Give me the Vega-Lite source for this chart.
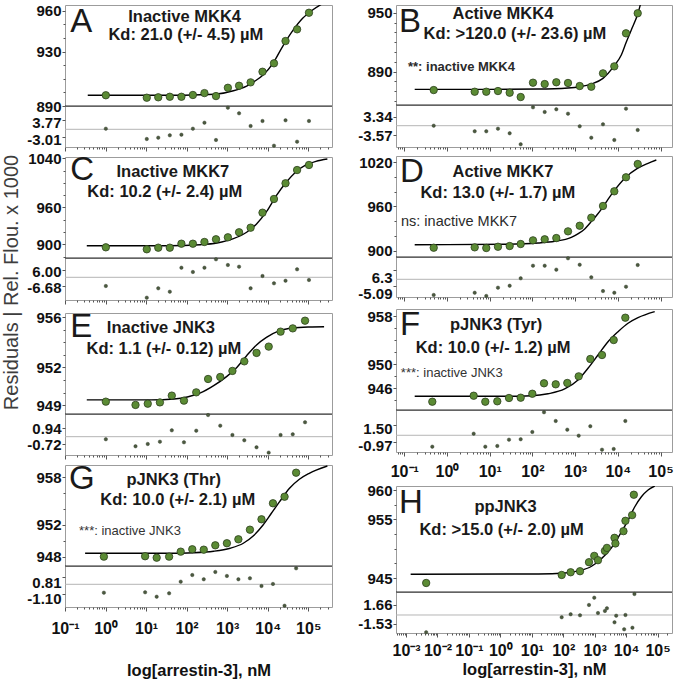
{
"$schema": "https://vega.github.io/schema/vega-lite/v6.json",
"padding": {"left": 2, "top": 0, "right": 0, "bottom": 0},
"background": "white",
"title": {"text": "Residuals | Rel. Flou. x 1000", "orient": "left", "anchor": "middle", "offset": 4, "dx": 57, "fontSize": 20, "fontWeight": "normal", "font": "Liberation Sans", "color": "#3d3d3d"},
"datasets": {
"pts": [
{"p":"A","logc":0.007,"y":897.9},{"p":"A","logc":1.017,"y":896.1},{"p":"A","logc":1.3,"y":896.4},{"p":"A","logc":1.585,"y":896.8},{"p":"A","logc":1.871,"y":896.8},{"p":"A","logc":2.154,"y":898.1},{"p":"A","logc":2.439,"y":899.5},{"p":"A","logc":2.724,"y":897.3},{"p":"A","logc":3.017,"y":903.4},{"p":"A","logc":3.293,"y":904.9},{"p":"A","logc":3.578,"y":907.4},{"p":"A","logc":3.871,"y":915.2},{"p":"A","logc":4.154,"y":921.4},{"p":"A","logc":4.439,"y":937.8},{"p":"A","logc":4.724,"y":946.4},{"p":"A","logc":5.017,"y":958.6},
{"p":"B","logc":-0.311,"y":871.3},{"p":"B","logc":0.649,"y":869.6},{"p":"B","logc":0.92,"y":869.6},{"p":"B","logc":1.194,"y":870.3},{"p":"B","logc":1.468,"y":868.6},{"p":"B","logc":1.726,"y":864.2},{"p":"B","logc":2.014,"y":878.8},{"p":"B","logc":2.288,"y":877.4},{"p":"B","logc":2.56,"y":879.2},{"p":"B","logc":2.834,"y":878.5},{"p":"B","logc":3.108,"y":875.4},{"p":"B","logc":3.379,"y":874.7},{"p":"B","logc":3.653,"y":888.3},{"p":"B","logc":3.918,"y":895.4},{"p":"B","logc":4.192,"y":929.0},{"p":"B","logc":4.466,"y":949.4},
{"p":"C","logc":0.007,"y":895.0},{"p":"C","logc":1.017,"y":891.8},{"p":"C","logc":1.3,"y":894.4},{"p":"C","logc":1.585,"y":894.4},{"p":"C","logc":1.871,"y":900.9},{"p":"C","logc":2.154,"y":900.9},{"p":"C","logc":2.439,"y":903.7},{"p":"C","logc":2.724,"y":908.1},{"p":"C","logc":3.017,"y":911.3},{"p":"C","logc":3.293,"y":919.5},{"p":"C","logc":3.578,"y":927.0},{"p":"C","logc":3.871,"y":951.4},{"p":"C","logc":4.154,"y":973.7},{"p":"C","logc":4.439,"y":999.3},{"p":"C","logc":4.724,"y":1020.9},{"p":"C","logc":5.017,"y":1029.1},
{"p":"D","logc":-0.311,"y":904.0},{"p":"D","logc":0.649,"y":904.5},{"p":"D","logc":0.92,"y":903.6},{"p":"D","logc":1.194,"y":905.3},{"p":"D","logc":1.468,"y":906.3},{"p":"D","logc":1.726,"y":909.0},{"p":"D","logc":2.014,"y":914.0},{"p":"D","logc":2.288,"y":915.4},{"p":"D","logc":2.56,"y":917.1},{"p":"D","logc":2.834,"y":926.2},{"p":"D","logc":3.108,"y":933.8},{"p":"D","logc":3.379,"y":944.7},{"p":"D","logc":3.653,"y":960.6},{"p":"D","logc":3.918,"y":980.5},{"p":"D","logc":4.192,"y":999.5},{"p":"D","logc":4.466,"y":1017.5},
{"p":"E","logc":0.007,"y":949.28},{"p":"E","logc":0.739,"y":949.02},{"p":"E","logc":1.041,"y":949.12},{"p":"E","logc":1.341,"y":949.22},{"p":"E","logc":1.634,"y":949.76},{"p":"E","logc":1.934,"y":949.36},{"p":"E","logc":2.237,"y":950.02},{"p":"E","logc":2.529,"y":951.08},{"p":"E","logc":2.829,"y":951.24},{"p":"E","logc":3.129,"y":951.72},{"p":"E","logc":3.422,"y":952.48},{"p":"E","logc":3.724,"y":953.15},{"p":"E","logc":4.024,"y":953.65},{"p":"E","logc":4.317,"y":954.84},{"p":"E","logc":4.617,"y":955.10},{"p":"E","logc":4.92,"y":955.71},
{"p":"F","logc":-0.344,"y":943.78},{"p":"F","logc":0.625,"y":944.78},{"p":"F","logc":0.897,"y":943.78},{"p":"F","logc":1.178,"y":943.85},{"p":"F","logc":1.452,"y":944.40},{"p":"F","logc":1.726,"y":944.45},{"p":"F","logc":1.998,"y":945.11},{"p":"F","logc":2.272,"y":946.85},{"p":"F","logc":2.546,"y":946.68},{"p":"F","logc":2.817,"y":946.90},{"p":"F","logc":3.084,"y":948.01},{"p":"F","logc":3.356,"y":950.90},{"p":"F","logc":3.63,"y":951.56},{"p":"F","logc":3.904,"y":954.06},{"p":"F","logc":4.176,"y":957.78},
{"p":"G","logc":-0.041,"y":947.99},{"p":"G","logc":0.976,"y":948.04},{"p":"G","logc":1.261,"y":947.86},{"p":"G","logc":1.568,"y":947.99},{"p":"G","logc":1.854,"y":948.62},{"p":"G","logc":2.139,"y":948.92},{"p":"G","logc":2.422,"y":948.87},{"p":"G","logc":2.707,"y":949.42},{"p":"G","logc":2.993,"y":949.68},{"p":"G","logc":3.276,"y":950.18},{"p":"G","logc":3.561,"y":951.39},{"p":"G","logc":3.846,"y":952.70},{"p":"G","logc":4.129,"y":954.72},{"p":"G","logc":4.415,"y":955.55},{"p":"G","logc":4.7,"y":958.58},
{"p":"H","logc":-2.36,"y":944.16},{"p":"H","logc":1.951,"y":945.53},{"p":"H","logc":2.236,"y":945.99},{"p":"H","logc":2.534,"y":946.17},{"p":"H","logc":2.819,"y":947.71},{"p":"H","logc":2.987,"y":948.79},{"p":"H","logc":3.105,"y":948.05},{"p":"H","logc":3.326,"y":949.64},{"p":"H","logc":3.39,"y":950.15},{"p":"H","logc":3.631,"y":951.87},{"p":"H","logc":3.66,"y":950.91},{"p":"H","logc":3.916,"y":953.01},{"p":"H","logc":3.979,"y":954.78},{"p":"H","logc":4.192,"y":955.75},{"p":"H","logc":4.246,"y":959.23}
],
"fit": [
{"p":"A","logc":-0.439,"y":897.9},{"p":"A","logc":1.529,"y":897.9},{"p":"A","logc":2.341,"y":898.3},{"p":"A","logc":2.749,"y":898.8},{"p":"A","logc":3.154,"y":901.2},{"p":"A","logc":3.48,"y":904.7},{"p":"A","logc":3.724,"y":909.1},{"p":"A","logc":3.885,"y":912.8},{"p":"A","logc":4.129,"y":921.4},{"p":"A","logc":4.373,"y":934.1},{"p":"A","logc":4.617,"y":945.4},{"p":"A","logc":4.861,"y":954.5},{"p":"A","logc":5.105,"y":960.6},{"p":"A","logc":5.39,"y":966.0},
{"p":"B","logc":-0.756,"y":872.0},{"p":"B","logc":0.96,"y":872.0},{"p":"B","logc":2.131,"y":872.3},{"p":"B","logc":2.834,"y":873.4},{"p":"B","logc":3.108,"y":874.7},{"p":"B","logc":3.379,"y":877.4},{"p":"B","logc":3.653,"y":883.2},{"p":"B","logc":3.918,"y":896.1},{"p":"B","logc":4.082,"y":906.9},{"p":"B","logc":4.192,"y":919.4},{"p":"B","logc":4.316,"y":932.4},{"p":"B","logc":4.466,"y":948.6},{"p":"B","logc":4.536,"y":959.5},{"p":"B","logc":4.6,"y":970.0},
{"p":"C","logc":-0.463,"y":897.6},{"p":"C","logc":1.529,"y":897.6},{"p":"C","logc":2.341,"y":899.3},{"p":"C","logc":2.749,"y":902.0},{"p":"C","logc":3.154,"y":909.0},{"p":"C","logc":3.48,"y":919.5},{"p":"C","logc":3.724,"y":933.0},{"p":"C","logc":3.968,"y":953.0},{"p":"C","logc":4.212,"y":979.1},{"p":"C","logc":4.456,"y":1000.9},{"p":"C","logc":4.7,"y":1018.2},{"p":"C","logc":4.944,"y":1029.1},{"p":"C","logc":5.188,"y":1035.1},{"p":"C","logc":5.471,"y":1038.8},
{"p":"D","logc":-0.756,"y":908.0},{"p":"D","logc":1.351,"y":908.6},{"p":"D","logc":2.131,"y":910.4},{"p":"D","logc":2.522,"y":912.7},{"p":"D","logc":2.911,"y":918.1},{"p":"D","logc":3.084,"y":923.5},{"p":"D","logc":3.225,"y":929.5},{"p":"D","logc":3.356,"y":937.9},{"p":"D","logc":3.497,"y":947.4},{"p":"D","logc":3.63,"y":957.4},{"p":"D","logc":3.77,"y":969.6},{"p":"D","logc":3.904,"y":980.5},{"p":"D","logc":4.176,"y":999.0},{"p":"D","logc":4.45,"y":1011.2},{"p":"D","logc":4.707,"y":1018.5},{"p":"D","logc":4.902,"y":1023.0},
{"p":"E","logc":-0.463,"y":949.42},{"p":"E","logc":1.122,"y":949.42},{"p":"E","logc":1.691,"y":949.49},{"p":"E","logc":2.016,"y":949.65},{"p":"E","logc":2.341,"y":949.97},{"p":"E","logc":2.667,"y":950.55},{"p":"E","logc":2.992,"y":951.29},{"p":"E","logc":3.237,"y":952.0},{"p":"E","logc":3.48,"y":952.93},{"p":"E","logc":3.724,"y":953.78},{"p":"E","logc":3.968,"y":954.38},{"p":"E","logc":4.293,"y":954.92},{"p":"E","logc":4.617,"y":955.13},{"p":"E","logc":5.024,"y":955.21},{"p":"E","logc":5.39,"y":955.23},
{"p":"F","logc":-0.756,"y":944.68},{"p":"F","logc":1.351,"y":944.68},{"p":"F","logc":1.974,"y":944.78},{"p":"F","logc":2.365,"y":945.11},{"p":"F","logc":2.756,"y":945.9},{"p":"F","logc":3.068,"y":947.4},{"p":"F","logc":3.302,"y":949.35},{"p":"F","logc":3.536,"y":951.56},{"p":"F","logc":3.77,"y":953.78},{"p":"F","logc":4.005,"y":955.45},{"p":"F","logc":4.239,"y":956.85},{"p":"F","logc":4.473,"y":957.78},{"p":"F","logc":4.864,"y":958.78},
{"p":"G","logc":-0.504,"y":948.42},{"p":"G","logc":1.529,"y":948.42},{"p":"G","logc":2.179,"y":948.49},{"p":"G","logc":2.667,"y":948.67},{"p":"G","logc":3.073,"y":949.05},{"p":"G","logc":3.398,"y":949.68},{"p":"G","logc":3.641,"y":950.6},{"p":"G","logc":3.885,"y":951.98},{"p":"G","logc":4.09,"y":953.46},{"p":"G","logc":4.293,"y":954.92},{"p":"G","logc":4.537,"y":956.61},{"p":"G","logc":4.78,"y":957.75},{"p":"G","logc":5.024,"y":958.5},{"p":"G","logc":5.471,"y":959.42},
{"p":"H","logc":-2.854,"y":945.65},{"p":"H","logc":1.212,"y":945.7},{"p":"H","logc":2.059,"y":945.87},{"p":"H","logc":2.48,"y":946.22},{"p":"H","logc":2.902,"y":947.02},{"p":"H","logc":3.219,"y":948.34},{"p":"H","logc":3.431,"y":949.47},{"p":"H","logc":3.643,"y":951.01},{"p":"H","logc":3.853,"y":952.89},{"p":"H","logc":4.065,"y":954.9},{"p":"H","logc":4.277,"y":957.18},{"p":"H","logc":4.487,"y":958.89},{"p":"H","logc":4.699,"y":960.04},{"p":"H","logc":4.911,"y":960.72}
],
"res": [
{"p":"A","logc":0.007,"y":0.24},{"p":"A","logc":1.017,"y":-3.88},{"p":"A","logc":1.3,"y":-3.36},{"p":"A","logc":1.585,"y":-2.4},{"p":"A","logc":1.871,"y":-2.16},{"p":"A","logc":2.154,"y":0.24},{"p":"A","logc":2.439,"y":2.64},{"p":"A","logc":2.724,"y":-4.28},{"p":"A","logc":3.017,"y":8.64},{"p":"A","logc":3.293,"y":6.4},{"p":"A","logc":3.578,"y":1.32},{"p":"A","logc":3.871,"y":3.32},{"p":"A","logc":4.154,"y":-6.56},{"p":"A","logc":4.439,"y":3.6},{"p":"A","logc":4.724,"y":-4.96},{"p":"A","logc":5.017,"y":3.32},
{"p":"B","logc":-0.311,"y":0},{"p":"B","logc":0.649,"y":-2.11},{"p":"B","logc":0.92,"y":-2.11},{"p":"B","logc":1.194,"y":-1.13},{"p":"B","logc":1.468,"y":-2.87},{"p":"B","logc":1.726,"y":-7.02},{"p":"B","logc":2.014,"y":6.94},{"p":"B","logc":2.288,"y":5.17},{"p":"B","logc":2.56,"y":6.19},{"p":"B","logc":2.834,"y":4.53},{"p":"B","logc":3.108,"y":-0.23},{"p":"B","logc":3.379,"y":-4.53},{"p":"B","logc":3.653,"y":0.53},{"p":"B","logc":3.918,"y":-5.4},{"p":"B","logc":4.192,"y":6.42},{"p":"B","logc":4.466,"y":-1.62},
{"p":"C","logc":0.007,"y":-6.69},{"p":"C","logc":1.017,"y":-15.69},{"p":"C","logc":1.3,"y":-8.46},{"p":"C","logc":1.585,"y":-11.08},{"p":"C","logc":1.871,"y":7.38},{"p":"C","logc":2.154,"y":4.08},{"p":"C","logc":2.439,"y":7.38},{"p":"C","logc":2.724,"y":13.85},{"p":"C","logc":3.017,"y":9.46},{"p":"C","logc":3.293,"y":8.15},{"p":"C","logc":3.578,"y":-8.46},{"p":"C","logc":3.871,"y":1.0},{"p":"C","logc":4.154,"y":-4.62},{"p":"C","logc":4.439,"y":-2.62},{"p":"C","logc":4.724,"y":6.15},{"p":"C","logc":5.017,"y":-2.08},
{"p":"D","logc":-0.311,"y":-11.2},{"p":"D","logc":0.649,"y":-9.6},{"p":"D","logc":0.92,"y":-11.9},{"p":"D","logc":1.194,"y":-6.0},{"p":"D","logc":1.468,"y":-4.6},{"p":"D","logc":1.726,"y":0.7},{"p":"D","logc":2.014,"y":9.7},{"p":"D","logc":2.288,"y":9.7},{"p":"D","logc":2.56,"y":6.9},{"p":"D","logc":2.834,"y":15.0},{"p":"D","logc":3.108,"y":10.4},{"p":"D","logc":3.379,"y":1.4},{"p":"D","logc":3.653,"y":-8.4},{"p":"D","logc":3.918,"y":-9.6},{"p":"D","logc":4.192,"y":-5.3},{"p":"D","logc":4.466,"y":10.2},
{"p":"E","logc":0.007,"y":-0.27},{"p":"E","logc":0.739,"y":-1.01},{"p":"E","logc":1.041,"y":-0.77},{"p":"E","logc":1.341,"y":-0.53},{"p":"E","logc":1.634,"y":0.67},{"p":"E","logc":1.934,"y":-0.59},{"p":"E","logc":2.237,"y":0.63},{"p":"E","logc":2.529,"y":2.28},{"p":"E","logc":2.829,"y":1.16},{"p":"E","logc":3.129,"y":0.18},{"p":"E","logc":3.422,"y":-0.38},{"p":"E","logc":3.724,"y":-1.12},{"p":"E","logc":4.024,"y":-1.68},{"p":"E","logc":4.317,"y":0.18},{"p":"E","logc":4.617,"y":0.25},{"p":"E","logc":4.92,"y":1.52},
{"p":"F","logc":-0.344,"y":-1.63},{"p":"F","logc":0.625,"y":0.23},{"p":"F","logc":0.897,"y":-1.63},{"p":"F","logc":1.178,"y":-1.53},{"p":"F","logc":1.452,"y":-0.63},{"p":"F","logc":1.726,"y":-0.57},{"p":"F","logc":1.998,"y":0.47},{"p":"F","logc":2.272,"y":3.29},{"p":"F","logc":2.546,"y":2.04},{"p":"F","logc":2.817,"y":0.8},{"p":"F","logc":3.084,"y":-0.06},{"p":"F","logc":3.356,"y":1.29},{"p":"F","logc":3.63,"y":-2.06},{"p":"F","logc":3.904,"y":-1.96},{"p":"F","logc":4.176,"y":2.04},
{"p":"G","logc":-0.041,"y":-0.99},{"p":"G","logc":0.976,"y":-0.94},{"p":"G","logc":1.261,"y":-1.46},{"p":"G","logc":1.568,"y":-1.06},{"p":"G","logc":1.854,"y":0.31},{"p":"G","logc":2.139,"y":1.09},{"p":"G","logc":2.422,"y":0.59},{"p":"G","logc":2.707,"y":1.45},{"p":"G","logc":2.993,"y":0.98},{"p":"G","logc":3.276,"y":0.59},{"p":"G","logc":3.561,"y":0.71},{"p":"G","logc":3.846,"y":-0.2},{"p":"G","logc":4.129,"y":0.04},{"p":"G","logc":4.415,"y":-2.52},{"p":"G","logc":4.7,"y":1.88},
{"p":"H","logc":-2.36,"y":-2.88},{"p":"H","logc":1.951,"y":-0.38},{"p":"H","logc":2.236,"y":0.12},{"p":"H","logc":2.534,"y":-0.05},{"p":"H","logc":2.819,"y":1.67},{"p":"H","logc":2.987,"y":2.88},{"p":"H","logc":3.105,"y":0.33},{"p":"H","logc":3.326,"y":0.67},{"p":"H","logc":3.39,"y":1.12},{"p":"H","logc":3.631,"y":-1.22},{"p":"H","logc":3.685,"y":-0.12},{"p":"H","logc":3.938,"y":-2.38},{"p":"H","logc":3.979,"y":0},{"p":"H","logc":4.201,"y":-2.12},{"p":"H","logc":4.265,"y":3.5}
],
"txt": [
{"p":"A","k":"L","logc":-0.87,"y":952.0,"t":"A"},
{"p":"A","k":"T","logc":1.95,"y":955.5,"t":"Inactive MKK4"},
{"p":"A","k":"T","logc":1.98,"y":942.2,"t":"Kd: 21.0 (+/- 4.5) µM"},
{"p":"B","k":"L","logc":-1.124,"y":940.5,"t":"B"},
{"p":"B","k":"T","logc":1.31,"y":948.6,"t":"Active MKK4"},
{"p":"B","k":"T","logc":1.59,"y":928.3,"t":"Kd: >120.0 (+/- 23.6) µM"},
{"p":"B","k":"N","logc":-0.914,"y":894.7,"t":"**: inactive MKK4"},
{"p":"C","k":"L","logc":-0.87,"y":1021.0,"t":"C"},
{"p":"C","k":"T","logc":1.66,"y":1017.7,"t":"Inactive MKK7"},
{"p":"C","k":"T","logc":1.46,"y":985.1,"t":"Kd: 10.2 (+/- 2.4) µM"},
{"p":"D","k":"L","logc":-1.1,"y":1006.7,"t":"D"},
{"p":"D","k":"T","logc":1.31,"y":1006.7,"t":"Active MKK7"},
{"p":"D","k":"T","logc":1.19,"y":978.2,"t":"Kd: 13.0 (+/- 1.7) µM"},
{"p":"D","k":"N2","logc":-1.077,"y":938.8,"t":"ns: inactive MKK7"},
{"p":"E","k":"L","logc":-0.87,"y":955.24,"t":"E"},
{"p":"E","k":"T","logc":1.366,"y":955.15,"t":"Inactive JNK3"},
{"p":"E","k":"T","logc":1.44,"y":953.49,"t":"Kd: 1.1 (+/- 0.12) µM"},
{"p":"F","k":"L","logc":-1.1,"y":956.6,"t":"F"},
{"p":"F","k":"T","logc":1.15,"y":956.56,"t":"pJNK3 (Tyr)"},
{"p":"F","k":"T","logc":1.08,"y":952.73,"t":"Kd: 10.0 (+/- 1.2) µM"},
{"p":"F","k":"N3","logc":-1.08,"y":948.56,"t":"***: inactive JNK3"},
{"p":"G","k":"L","logc":-0.9,"y":957.8,"t":"G"},
{"p":"G","k":"T","logc":1.68,"y":957.66,"t":"pJNK3 (Thr)"},
{"p":"G","k":"T","logc":1.78,"y":955.14,"t":"Kd: 10.0 (+/- 2.1) µM"},
{"p":"G","k":"N3","logc":-0.654,"y":951.23,"t":"***: inactive JNK3"},
{"p":"H","k":"L","logc":-3.225,"y":957.8,"t":"H"},
{"p":"H","k":"T","logc":0.166,"y":957.12,"t":"ppJNK3"},
{"p":"H","k":"T","logc":0.04,"y":953.19,"t":"Kd: >15.0 (+/- 2.0) µM"}
]
},
"spacing": 23,
"hconcat": [
{"spacing": 0, "bounds": "flush", "vconcat": [
{"width": 267, "height": 5, "view": {"stroke": null}, "data": {"values": []}, "mark": "point"},
{"width": 267, "height": 101,
 "encoding": {"x": {"field": "logc", "type": "quantitative", "scale": {"domain": [-1, 5.585], "nice": false, "zero": false}, "axis": null},
   "y": {"field": "y", "type": "quantitative", "scale": {"domain": [890, 964.3], "nice": false, "zero": false}, "axis": {"values": [890, 900, 910, 920, 930, 940, 950, 960], "labelExpr": "indexof([890, 930, 960], datum.value) >= 0 ? format(datum.value, 'd') : ''", "tickSize": {"condition": {"test": "indexof([890, 930, 960], datum.value) >= 0", "value": 3}, "value": 2}, "title": null}}},
 "layer": [
  {"data": {"name": "fit"}, "transform": [{"filter": "datum.p == 'A'"}], "mark": {"type": "line", "color": "#000000", "strokeWidth": 1.4, "interpolate": "monotone", "clip": true}},
  {"data": {"name": "pts"}, "transform": [{"filter": "datum.p == 'A'"}], "mark": {"type": "circle", "size": 55, "color": "#5b8b34", "stroke": "#2c3f1d", "strokeWidth": 0.8, "opacity": 1}},
  {"data": {"name": "txt"}, "transform": [{"filter": "datum.p == 'A' && datum.k == 'L'"}], "mark": {"type": "text", "fontSize": 33, "align": "left", "baseline": "middle"}, "encoding": {"text": {"field": "t"}}},
  {"data": {"name": "txt"}, "transform": [{"filter": "datum.p == 'A' && datum.k == 'T'"}], "mark": {"type": "text", "fontSize": 16.5, "fontWeight": "bold", "baseline": "middle"}, "encoding": {"text": {"field": "t"}}}
 ]},
{"width": 267, "height": 41,
 "layer": [
  {"data": {"values": [{}]}, "mark": {"type": "rule", "color": "#b5b5b5", "strokeWidth": 1}, "encoding": {"y": {"datum": 0, "type": "quantitative", "axis": {"values": [3.77, -3.01], "labelExpr": "datum.value > 0 ? '3.77' : '-3.01'", "labelOffset": 3, "title": null}}}},
  {"data": {"values": [{}]}, "mark": {"type": "rule", "color": "#2b2b2b", "strokeWidth": 1.2}, "encoding": {"y": {"datum": 9.32, "type": "quantitative", "axis": {"values": [3.77, -3.01], "labelExpr": "datum.value > 0 ? '3.77' : '-3.01'", "labelOffset": 3, "title": null}}}},
  {"data": {"name": "res"}, "transform": [{"filter": "datum.p == 'A'"}], "mark": {"type": "circle", "size": 12, "color": "#4c5a40", "stroke": "#2c3524", "strokeWidth": 0.4, "opacity": 1},
   "encoding": {"x": {"field": "logc", "type": "quantitative", "scale": {"domain": [-1, 5.585], "nice": false, "zero": false}, "axis": {"values": [-1,-0.699,-0.523,-0.398,-0.301,-0.222,-0.155,-0.097,-0.046,0,0.301,0.477,0.602,0.699,0.778,0.845,0.903,0.954,1,1.301,1.477,1.602,1.699,1.778,1.845,1.903,1.954,2,2.301,2.477,2.602,2.699,2.778,2.845,2.903,2.954,3,3.301,3.477,3.602,3.699,3.778,3.845,3.903,3.954,4,4.301,4.477,4.602,4.699,4.778,4.845,4.903,4.954,5,5.301,5.477], "labels": false, "title": null, "tickSize": {"condition": {"test": "datum.value % 1 == 0", "value": 4}, "value": 2}}},
     "y": {"field": "y", "type": "quantitative", "scale": {"domain": [-7.08, 9.32], "nice": false, "zero": false}, "axis": {"values": [3.77, -3.01], "labelExpr": "datum.value > 0 ? '3.77' : '-3.01'", "labelOffset": 3, "title": null}}}}
 ]},
{"width": 267, "height": 10, "view": {"stroke": null}, "data": {"values": []}, "mark": "point"},
{"width": 267, "height": 101,
 "encoding": {"x": {"field": "logc", "type": "quantitative", "scale": {"domain": [-1, 5.585], "nice": false, "zero": false}, "axis": null},
   "y": {"field": "y", "type": "quantitative", "scale": {"domain": [877.6, 1042.1], "nice": false, "zero": false}, "axis": {"values": [880, 900, 920, 940, 960, 980, 1000, 1020, 1040], "labelExpr": "indexof([900, 960, 1040], datum.value) >= 0 ? format(datum.value, 'd') : ''", "tickSize": {"condition": {"test": "indexof([900, 960, 1040], datum.value) >= 0", "value": 3}, "value": 2}, "title": null}}},
 "layer": [
  {"data": {"name": "fit"}, "transform": [{"filter": "datum.p == 'C'"}], "mark": {"type": "line", "color": "#000000", "strokeWidth": 1.4, "interpolate": "monotone", "clip": true}},
  {"data": {"name": "pts"}, "transform": [{"filter": "datum.p == 'C'"}], "mark": {"type": "circle", "size": 55, "color": "#5b8b34", "stroke": "#2c3f1d", "strokeWidth": 0.8, "opacity": 1}},
  {"data": {"name": "txt"}, "transform": [{"filter": "datum.p == 'C' && datum.k == 'L'"}], "mark": {"type": "text", "fontSize": 33, "align": "left", "baseline": "middle"}, "encoding": {"text": {"field": "t"}}},
  {"data": {"name": "txt"}, "transform": [{"filter": "datum.p == 'C' && datum.k == 'T'"}], "mark": {"type": "text", "fontSize": 16.5, "fontWeight": "bold", "baseline": "middle"}, "encoding": {"text": {"field": "t"}}}
 ]},
{"width": 267, "height": 42,
 "layer": [
  {"data": {"values": [{}]}, "mark": {"type": "rule", "color": "#b5b5b5", "strokeWidth": 1}, "encoding": {"y": {"datum": 0, "type": "quantitative", "axis": {"values": [6.0, -6.68], "labelExpr": "datum.value > 0 ? '6.00' : '-6.68'", "labelOffset": 1.5, "title": null}}}},
  {"data": {"values": [{}]}, "mark": {"type": "rule", "color": "#2b2b2b", "strokeWidth": 1.2}, "encoding": {"y": {"datum": 14.85, "type": "quantitative", "axis": {"values": [6.0, -6.68], "labelExpr": "datum.value > 0 ? '6.00' : '-6.68'", "labelOffset": 1.5, "title": null}}}},
  {"data": {"name": "res"}, "transform": [{"filter": "datum.p == 'C'"}], "mark": {"type": "circle", "size": 12, "color": "#4c5a40", "stroke": "#2c3524", "strokeWidth": 0.4, "opacity": 1},
   "encoding": {"x": {"field": "logc", "type": "quantitative", "scale": {"domain": [-1, 5.585], "nice": false, "zero": false}, "axis": {"values": [-1,-0.699,-0.523,-0.398,-0.301,-0.222,-0.155,-0.097,-0.046,0,0.301,0.477,0.602,0.699,0.778,0.845,0.903,0.954,1,1.301,1.477,1.602,1.699,1.778,1.845,1.903,1.954,2,2.301,2.477,2.602,2.699,2.778,2.845,2.903,2.954,3,3.301,3.477,3.602,3.699,3.778,3.845,3.903,3.954,4,4.301,4.477,4.602,4.699,4.778,4.845,4.903,4.954,5,5.301,5.477], "labels": false, "title": null, "tickSize": {"condition": {"test": "datum.value % 1 == 0", "value": 4}, "value": 2}}},
     "y": {"field": "y", "type": "quantitative", "scale": {"domain": [-17.46, 14.85], "nice": false, "zero": false}, "axis": {"values": [6.0, -6.68], "labelExpr": "datum.value > 0 ? '6.00' : '-6.68'", "labelOffset": 1.5, "title": null}}}}
 ]},
{"width": 267, "height": 13, "view": {"stroke": null}, "data": {"values": []}, "mark": "point"},
{"width": 267, "height": 101,
 "encoding": {"x": {"field": "logc", "type": "quantitative", "scale": {"domain": [-1, 5.585], "nice": false, "zero": false}, "axis": null},
   "y": {"field": "y", "type": "quantitative", "scale": {"domain": [948.3, 956.32], "nice": false, "zero": false}, "axis": {"values": [949, 950, 951, 952, 953, 954, 955, 956], "labelExpr": "indexof([949, 952, 956], datum.value) >= 0 ? format(datum.value, 'd') : ''", "tickSize": {"condition": {"test": "indexof([949, 952, 956], datum.value) >= 0", "value": 3}, "value": 2}, "title": null}}},
 "layer": [
  {"data": {"name": "fit"}, "transform": [{"filter": "datum.p == 'E'"}], "mark": {"type": "line", "color": "#000000", "strokeWidth": 1.4, "interpolate": "monotone", "clip": true}},
  {"data": {"name": "pts"}, "transform": [{"filter": "datum.p == 'E'"}], "mark": {"type": "circle", "size": 55, "color": "#5b8b34", "stroke": "#2c3f1d", "strokeWidth": 0.8, "opacity": 1}},
  {"data": {"name": "txt"}, "transform": [{"filter": "datum.p == 'E' && datum.k == 'L'"}], "mark": {"type": "text", "fontSize": 33, "align": "left", "baseline": "middle"}, "encoding": {"text": {"field": "t"}}},
  {"data": {"name": "txt"}, "transform": [{"filter": "datum.p == 'E' && datum.k == 'T'"}], "mark": {"type": "text", "fontSize": 16.5, "fontWeight": "bold", "baseline": "middle"}, "encoding": {"text": {"field": "t"}}}
 ]},
{"width": 267, "height": 41,
 "layer": [
  {"data": {"values": [{}]}, "mark": {"type": "rule", "color": "#b5b5b5", "strokeWidth": 1}, "encoding": {"y": {"datum": 0, "type": "quantitative", "axis": {"values": [0.94, -0.72], "labelExpr": "datum.value > 0 ? '0.94' : '-0.72'", "labelOffset": 1, "title": null}}}},
  {"data": {"values": [{}]}, "mark": {"type": "rule", "color": "#2b2b2b", "strokeWidth": 1.2}, "encoding": {"y": {"datum": 2.39, "type": "quantitative", "axis": {"values": [0.94, -0.72], "labelExpr": "datum.value > 0 ? '0.94' : '-0.72'", "labelOffset": 1, "title": null}}}},
  {"data": {"name": "res"}, "transform": [{"filter": "datum.p == 'E'"}], "mark": {"type": "circle", "size": 12, "color": "#4c5a40", "stroke": "#2c3524", "strokeWidth": 0.4, "opacity": 1},
   "encoding": {"x": {"field": "logc", "type": "quantitative", "scale": {"domain": [-1, 5.585], "nice": false, "zero": false}, "axis": {"values": [-1,-0.699,-0.523,-0.398,-0.301,-0.222,-0.155,-0.097,-0.046,0,0.301,0.477,0.602,0.699,0.778,0.845,0.903,0.954,1,1.301,1.477,1.602,1.699,1.778,1.845,1.903,1.954,2,2.301,2.477,2.602,2.699,2.778,2.845,2.903,2.954,3,3.301,3.477,3.602,3.699,3.778,3.845,3.903,3.954,4,4.301,4.477,4.602,4.699,4.778,4.845,4.903,4.954,5,5.301,5.477], "labels": false, "title": null, "tickSize": {"condition": {"test": "datum.value % 1 == 0", "value": 4}, "value": 2}}},
     "y": {"field": "y", "type": "quantitative", "scale": {"domain": [-1.93, 2.39], "nice": false, "zero": false}, "axis": {"values": [0.94, -0.72], "labelExpr": "datum.value > 0 ? '0.94' : '-0.72'", "labelOffset": 1, "title": null}}}}
 ]},
{"width": 267, "height": 10, "view": {"stroke": null}, "data": {"values": []}, "mark": "point"},
{"width": 267, "height": 101,
 "encoding": {"x": {"field": "logc", "type": "quantitative", "scale": {"domain": [-1, 5.585], "nice": false, "zero": false}, "axis": null},
   "y": {"field": "y", "type": "quantitative", "scale": {"domain": [946.81, 959.55], "nice": false, "zero": false}, "axis": {"values": [948, 950, 952, 954, 956, 958], "labelExpr": "indexof([948, 952, 958], datum.value) >= 0 ? format(datum.value, 'd') : ''", "tickSize": {"condition": {"test": "indexof([948, 952, 958], datum.value) >= 0", "value": 3}, "value": 2}, "title": null}}},
 "layer": [
  {"data": {"name": "fit"}, "transform": [{"filter": "datum.p == 'G'"}], "mark": {"type": "line", "color": "#000000", "strokeWidth": 1.4, "interpolate": "monotone", "clip": true}},
  {"data": {"name": "pts"}, "transform": [{"filter": "datum.p == 'G'"}], "mark": {"type": "circle", "size": 55, "color": "#5b8b34", "stroke": "#2c3f1d", "strokeWidth": 0.8, "opacity": 1}},
  {"data": {"name": "txt"}, "transform": [{"filter": "datum.p == 'G' && datum.k == 'L'"}], "mark": {"type": "text", "fontSize": 33, "align": "left", "baseline": "middle"}, "encoding": {"text": {"field": "t"}}},
  {"data": {"name": "txt"}, "transform": [{"filter": "datum.p == 'G' && datum.k == 'T'"}], "mark": {"type": "text", "fontSize": 16.5, "fontWeight": "bold", "baseline": "middle"}, "encoding": {"text": {"field": "t"}}},
  {"data": {"name": "txt"}, "transform": [{"filter": "datum.p == 'G' && datum.k == 'N3'"}], "mark": {"type": "text", "fontSize": 13, "align": "left", "baseline": "middle", "color": "#333333"}, "encoding": {"text": {"field": "t"}}}
 ]},
{"width": 267, "height": 41,
 "layer": [
  {"data": {"values": [{}]}, "mark": {"type": "rule", "color": "#b5b5b5", "strokeWidth": 1}, "encoding": {"y": {"datum": 0, "type": "quantitative", "axis": {"values": [0.81, -1.1], "labelExpr": "datum.value > 0 ? '0.81' : '-1.10'", "labelOffset": 5, "title": null}}}},
  {"data": {"values": [{}]}, "mark": {"type": "rule", "color": "#2b2b2b", "strokeWidth": 1.2}, "encoding": {"y": {"datum": 2.153, "type": "quantitative", "axis": {"values": [0.81, -1.1], "labelExpr": "datum.value > 0 ? '0.81' : '-1.10'", "labelOffset": 5, "title": null}}}},
  {"data": {"name": "res"}, "transform": [{"filter": "datum.p == 'G'"}], "mark": {"type": "circle", "size": 12, "color": "#4c5a40", "stroke": "#2c3524", "strokeWidth": 0.4, "opacity": 1},
   "encoding": {"x": {"field": "logc", "type": "quantitative", "scale": {"domain": [-1, 5.585], "nice": false, "zero": false}, "axis": {"values": [-1,-0.699,-0.523,-0.398,-0.301,-0.222,-0.155,-0.097,-0.046,0,0.301,0.477,0.602,0.699,0.778,0.845,0.903,0.954,1,1.301,1.477,1.602,1.699,1.778,1.845,1.903,1.954,2,2.301,2.477,2.602,2.699,2.778,2.845,2.903,2.954,3,3.301,3.477,3.602,3.699,3.778,3.845,3.903,3.954,4,4.301,4.477,4.602,4.699,4.778,4.845,4.903,4.954,5,5.301,5.477], "labelExpr": "datum.value % 1 == 0 ? ['10⁻³','10⁻²','10⁻¹','10⁰','10¹','10²','10³','10⁴','10⁵'][datum.value + 3] : ''", "labelPadding": 9, "title": "log[arrestin-3], nM", "titlePadding": 26, "tickSize": {"condition": {"test": "datum.value % 1 == 0", "value": 4}, "value": 2}}},
     "y": {"field": "y", "type": "quantitative", "scale": {"domain": [-2.671, 2.153], "nice": false, "zero": false}, "axis": {"values": [0.81, -1.1], "labelExpr": "datum.value > 0 ? '0.81' : '-1.10'", "labelOffset": 5, "title": null}}}}
 ]}
]},
{"spacing": 0, "bounds": "flush", "vconcat": [
{"width": 276, "height": 5, "view": {"stroke": null}, "data": {"values": []}, "mark": "point"},
{"width": 276, "height": 100,
 "encoding": {"x": {"field": "logc", "type": "quantitative", "scale": {"domain": [-1.194, 5.269], "nice": false, "zero": false}, "axis": null},
   "y": {"field": "y", "type": "quantitative", "scale": {"domain": [856.1, 957.8], "nice": false, "zero": false}, "axis": {"values": [860, 870, 880, 890, 900, 910, 920, 930, 940, 950], "labelExpr": "indexof([890, 950], datum.value) >= 0 ? format(datum.value, 'd') : ''", "tickSize": {"condition": {"test": "indexof([890, 950], datum.value) >= 0", "value": 3}, "value": 2}, "title": null}}},
 "layer": [
  {"data": {"name": "fit"}, "transform": [{"filter": "datum.p == 'B'"}], "mark": {"type": "line", "color": "#000000", "strokeWidth": 1.4, "interpolate": "monotone", "clip": true}},
  {"data": {"name": "pts"}, "transform": [{"filter": "datum.p == 'B'"}], "mark": {"type": "circle", "size": 55, "color": "#5b8b34", "stroke": "#2c3f1d", "strokeWidth": 0.8, "opacity": 1}},
  {"data": {"name": "txt"}, "transform": [{"filter": "datum.p == 'B' && datum.k == 'L'"}], "mark": {"type": "text", "fontSize": 33, "align": "left", "baseline": "middle"}, "encoding": {"text": {"field": "t"}}},
  {"data": {"name": "txt"}, "transform": [{"filter": "datum.p == 'B' && datum.k == 'T'"}], "mark": {"type": "text", "fontSize": 16.5, "fontWeight": "bold", "baseline": "middle"}, "encoding": {"text": {"field": "t"}}},
  {"data": {"name": "txt"}, "transform": [{"filter": "datum.p == 'B' && datum.k == 'N'"}], "mark": {"type": "text", "fontSize": 13, "fontWeight": "bold", "align": "left", "baseline": "middle", "color": "#2a2a2a"}, "encoding": {"text": {"field": "t"}}}
 ]},
{"width": 276, "height": 42,
 "layer": [
  {"data": {"values": [{}]}, "mark": {"type": "rule", "color": "#b5b5b5", "strokeWidth": 1}, "encoding": {"y": {"datum": 0, "type": "quantitative", "axis": {"values": [3.34, -3.57], "labelExpr": "datum.value > 0 ? '3.34' : '-3.57'", "title": null}}}},
  {"data": {"values": [{}]}, "mark": {"type": "rule", "color": "#2b2b2b", "strokeWidth": 1.2}, "encoding": {"y": {"datum": 7.81, "type": "quantitative", "axis": {"values": [3.34, -3.57], "labelExpr": "datum.value > 0 ? '3.34' : '-3.57'", "title": null}}}},
  {"data": {"name": "res"}, "transform": [{"filter": "datum.p == 'B'"}], "mark": {"type": "circle", "size": 12, "color": "#4c5a40", "stroke": "#2c3524", "strokeWidth": 0.4, "opacity": 1},
   "encoding": {"x": {"field": "logc", "type": "quantitative", "scale": {"domain": [-1.194, 5.269], "nice": false, "zero": false}, "axis": {"values": [-1.155,-1.097,-1.046,-1,-0.699,-0.523,-0.398,-0.301,-0.222,-0.155,-0.097,-0.046,0,0.301,0.477,0.602,0.699,0.778,0.845,0.903,0.954,1,1.301,1.477,1.602,1.699,1.778,1.845,1.903,1.954,2,2.301,2.477,2.602,2.699,2.778,2.845,2.903,2.954,3,3.301,3.477,3.602,3.699,3.778,3.845,3.903,3.954,4,4.301,4.477,4.602,4.699,4.778,4.845,4.903,4.954,5], "labels": false, "title": null, "tickSize": {"condition": {"test": "datum.value % 1 == 0", "value": 4}, "value": 2}}},
     "y": {"field": "y", "type": "quantitative", "scale": {"domain": [-8.04, 7.81], "nice": false, "zero": false}, "axis": {"values": [3.34, -3.57], "labelExpr": "datum.value > 0 ? '3.34' : '-3.57'", "title": null}}}}
 ]},
{"width": 276, "height": 9, "view": {"stroke": null}, "data": {"values": []}, "mark": "point"},
{"width": 276, "height": 101,
 "encoding": {"x": {"field": "logc", "type": "quantitative", "scale": {"domain": [-1.194, 5.269], "nice": false, "zero": false}, "axis": null},
   "y": {"field": "y", "type": "quantitative", "scale": {"domain": [891.4, 1028.4], "nice": false, "zero": false}, "axis": {"values": [900, 920, 940, 960, 980, 1000, 1020], "labelExpr": "indexof([900, 960, 1020], datum.value) >= 0 ? format(datum.value, 'd') : ''", "tickSize": {"condition": {"test": "indexof([900, 960, 1020], datum.value) >= 0", "value": 3}, "value": 2}, "title": null}}},
 "layer": [
  {"data": {"name": "fit"}, "transform": [{"filter": "datum.p == 'D'"}], "mark": {"type": "line", "color": "#000000", "strokeWidth": 1.4, "interpolate": "monotone", "clip": true}},
  {"data": {"name": "pts"}, "transform": [{"filter": "datum.p == 'D'"}], "mark": {"type": "circle", "size": 55, "color": "#5b8b34", "stroke": "#2c3f1d", "strokeWidth": 0.8, "opacity": 1}},
  {"data": {"name": "txt"}, "transform": [{"filter": "datum.p == 'D' && datum.k == 'L'"}], "mark": {"type": "text", "fontSize": 33, "align": "left", "baseline": "middle"}, "encoding": {"text": {"field": "t"}}},
  {"data": {"name": "txt"}, "transform": [{"filter": "datum.p == 'D' && datum.k == 'T'"}], "mark": {"type": "text", "fontSize": 16.5, "fontWeight": "bold", "baseline": "middle"}, "encoding": {"text": {"field": "t"}}},
  {"data": {"name": "txt"}, "transform": [{"filter": "datum.p == 'D' && datum.k == 'N2'"}], "mark": {"type": "text", "fontSize": 14.5, "align": "left", "baseline": "middle", "color": "#2a2a2a"}, "encoding": {"text": {"field": "t"}}}
 ]},
{"width": 276, "height": 40,
 "layer": [
  {"data": {"values": [{}]}, "mark": {"type": "rule", "color": "#b5b5b5", "strokeWidth": 1}, "encoding": {"y": {"datum": 0, "type": "quantitative", "axis": {"values": [6.3, -5.09], "labelExpr": "datum.value > 0 ? '6.3' : '-5.09'", "labelOffset": 7, "title": null}}}},
  {"data": {"values": [{}]}, "mark": {"type": "rule", "color": "#2b2b2b", "strokeWidth": 1.2}, "encoding": {"y": {"datum": 15.93, "type": "quantitative", "axis": {"values": [6.3, -5.09], "labelExpr": "datum.value > 0 ? '6.3' : '-5.09'", "labelOffset": 7, "title": null}}}},
  {"data": {"name": "res"}, "transform": [{"filter": "datum.p == 'D'"}], "mark": {"type": "circle", "size": 12, "color": "#4c5a40", "stroke": "#2c3524", "strokeWidth": 0.4, "opacity": 1},
   "encoding": {"x": {"field": "logc", "type": "quantitative", "scale": {"domain": [-1.194, 5.269], "nice": false, "zero": false}, "axis": {"values": [-1.155,-1.097,-1.046,-1,-0.699,-0.523,-0.398,-0.301,-0.222,-0.155,-0.097,-0.046,0,0.301,0.477,0.602,0.699,0.778,0.845,0.903,0.954,1,1.301,1.477,1.602,1.699,1.778,1.845,1.903,1.954,2,2.301,2.477,2.602,2.699,2.778,2.845,2.903,2.954,3,3.301,3.477,3.602,3.699,3.778,3.845,3.903,3.954,4,4.301,4.477,4.602,4.699,4.778,4.845,4.903,4.954,5], "labels": false, "title": null, "tickSize": {"condition": {"test": "datum.value % 1 == 0", "value": 4}, "value": 2}}},
     "y": {"field": "y", "type": "quantitative", "scale": {"domain": [-12.64, 15.93], "nice": false, "zero": false}, "axis": {"values": [6.3, -5.09], "labelExpr": "datum.value > 0 ? '6.3' : '-5.09'", "labelOffset": 7, "title": null}}}}
 ]},
{"width": 276, "height": 12, "view": {"stroke": null}, "data": {"values": []}, "mark": "point"},
{"width": 276, "height": 101,
 "encoding": {"x": {"field": "logc", "type": "quantitative", "scale": {"domain": [-1.194, 5.269], "nice": false, "zero": false}, "axis": null},
   "y": {"field": "y", "type": "quantitative", "scale": {"domain": [942.4, 959.23], "nice": false, "zero": false}, "axis": {"values": [944, 946, 948, 950, 952, 954, 956, 958], "labelExpr": "indexof([946, 950, 958], datum.value) >= 0 ? format(datum.value, 'd') : ''", "tickSize": {"condition": {"test": "indexof([946, 950, 958], datum.value) >= 0", "value": 3}, "value": 2}, "title": null}}},
 "layer": [
  {"data": {"name": "fit"}, "transform": [{"filter": "datum.p == 'F'"}], "mark": {"type": "line", "color": "#000000", "strokeWidth": 1.4, "interpolate": "monotone", "clip": true}},
  {"data": {"name": "pts"}, "transform": [{"filter": "datum.p == 'F'"}], "mark": {"type": "circle", "size": 55, "color": "#5b8b34", "stroke": "#2c3f1d", "strokeWidth": 0.8, "opacity": 1}},
  {"data": {"name": "txt"}, "transform": [{"filter": "datum.p == 'F' && datum.k == 'L'"}], "mark": {"type": "text", "fontSize": 33, "align": "left", "baseline": "middle"}, "encoding": {"text": {"field": "t"}}},
  {"data": {"name": "txt"}, "transform": [{"filter": "datum.p == 'F' && datum.k == 'T'"}], "mark": {"type": "text", "fontSize": 16.5, "fontWeight": "bold", "baseline": "middle"}, "encoding": {"text": {"field": "t"}}},
  {"data": {"name": "txt"}, "transform": [{"filter": "datum.p == 'F' && datum.k == 'N3'"}], "mark": {"type": "text", "fontSize": 13, "align": "left", "baseline": "middle", "color": "#333333"}, "encoding": {"text": {"field": "t"}}}
 ]},
{"width": 276, "height": 42,
 "layer": [
  {"data": {"values": [{}]}, "mark": {"type": "rule", "color": "#b5b5b5", "strokeWidth": 1}, "encoding": {"y": {"datum": 0, "type": "quantitative", "axis": {"values": [1.5, -0.97], "labelExpr": "datum.value > 0 ? '1.50' : '-0.97'", "labelOffset": 3.5, "title": null}}}},
  {"data": {"values": [{}]}, "mark": {"type": "rule", "color": "#2b2b2b", "strokeWidth": 1.2}, "encoding": {"y": {"datum": 3.61, "type": "quantitative", "axis": {"values": [1.5, -0.97], "labelExpr": "datum.value > 0 ? '1.50' : '-0.97'", "labelOffset": 3.5, "title": null}}}},
  {"data": {"name": "res"}, "transform": [{"filter": "datum.p == 'F'"}], "mark": {"type": "circle", "size": 12, "color": "#4c5a40", "stroke": "#2c3524", "strokeWidth": 0.4, "opacity": 1},
   "encoding": {"x": {"field": "logc", "type": "quantitative", "scale": {"domain": [-1.194, 5.269], "nice": false, "zero": false}, "axis": {"values": [-1.155,-1.097,-1.046,-1,-0.699,-0.523,-0.398,-0.301,-0.222,-0.155,-0.097,-0.046,0,0.301,0.477,0.602,0.699,0.778,0.845,0.903,0.954,1,1.301,1.477,1.602,1.699,1.778,1.845,1.903,1.954,2,2.301,2.477,2.602,2.699,2.778,2.845,2.903,2.954,3,3.301,3.477,3.602,3.699,3.778,3.845,3.903,3.954,4,4.301,4.477,4.602,4.699,4.778,4.845,4.903,4.954,5], "labelExpr": "datum.value % 1 == 0 ? ['10⁻³','10⁻²','10⁻¹','10⁰','10¹','10²','10³','10⁴','10⁵'][datum.value + 3] : ''", "labelPadding": 7, "title": null, "tickSize": {"condition": {"test": "datum.value % 1 == 0", "value": 4}, "value": 2}}},
     "y": {"field": "y", "type": "quantitative", "scale": {"domain": [-2.39, 3.61], "nice": false, "zero": false}, "axis": {"values": [1.5, -0.97], "labelExpr": "datum.value > 0 ? '1.50' : '-0.97'", "labelOffset": 3.5, "title": null}}}}
 ]},
{"width": 276, "height": 34, "view": {"stroke": null}, "data": {"values": []}, "mark": "point"},
{"width": 276, "height": 106,
 "encoding": {"x": {"field": "logc", "type": "quantitative", "scale": {"domain": [-3.32, 5.46], "nice": false, "zero": false}, "axis": null},
   "y": {"field": "y", "type": "quantitative", "scale": {"domain": [942.62, 960.72], "nice": false, "zero": false}, "axis": {"values": [945, 947.5, 950, 952.5, 955, 957.5, 960], "labelExpr": "indexof([945, 955, 960], datum.value) >= 0 ? format(datum.value, 'd') : ''", "tickSize": {"condition": {"test": "indexof([945, 955, 960], datum.value) >= 0", "value": 3}, "value": 2}, "title": null}}},
 "layer": [
  {"data": {"name": "fit"}, "transform": [{"filter": "datum.p == 'H'"}], "mark": {"type": "line", "color": "#000000", "strokeWidth": 1.4, "interpolate": "monotone", "clip": true}},
  {"data": {"name": "pts"}, "transform": [{"filter": "datum.p == 'H'"}], "mark": {"type": "circle", "size": 55, "color": "#5b8b34", "stroke": "#2c3f1d", "strokeWidth": 0.8, "opacity": 1}},
  {"data": {"name": "txt"}, "transform": [{"filter": "datum.p == 'H' && datum.k == 'L'"}], "mark": {"type": "text", "fontSize": 33, "align": "left", "baseline": "middle"}, "encoding": {"text": {"field": "t"}}},
  {"data": {"name": "txt"}, "transform": [{"filter": "datum.p == 'H' && datum.k == 'T'"}], "mark": {"type": "text", "fontSize": 16.5, "fontWeight": "bold", "baseline": "middle"}, "encoding": {"text": {"field": "t"}}}
 ]},
{"width": 276, "height": 41,
 "layer": [
  {"data": {"values": [{}]}, "mark": {"type": "rule", "color": "#b5b5b5", "strokeWidth": 1}, "encoding": {"y": {"datum": 0, "type": "quantitative", "axis": {"values": [1.66, -1.53], "labelExpr": "datum.value > 0 ? '1.66' : '-1.53'", "labelOffset": -1, "title": null}}}},
  {"data": {"values": [{}]}, "mark": {"type": "rule", "color": "#2b2b2b", "strokeWidth": 1.2}, "encoding": {"y": {"datum": 3.833, "type": "quantitative", "axis": {"values": [1.66, -1.53], "labelExpr": "datum.value > 0 ? '1.66' : '-1.53'", "labelOffset": -1, "title": null}}}},
  {"data": {"name": "res"}, "transform": [{"filter": "datum.p == 'H'"}], "mark": {"type": "circle", "size": 12, "color": "#4c5a40", "stroke": "#2c3524", "strokeWidth": 0.4, "opacity": 1},
   "encoding": {"x": {"field": "logc", "type": "quantitative", "scale": {"domain": [-3.32, 5.46], "nice": false, "zero": false}, "axis": {"values": [-3.301,-3.222,-3.155,-3.097,-3.046,-3,-2.699,-2.523,-2.398,-2.301,-2.222,-2.155,-2.097,-2.046,-2,-1.699,-1.523,-1.398,-1.301,-1.222,-1.155,-1.097,-1.046,-1,-0.699,-0.523,-0.398,-0.301,-0.222,-0.155,-0.097,-0.046,0,0.301,0.477,0.602,0.699,0.778,0.845,0.903,0.954,1,1.301,1.477,1.602,1.699,1.778,1.845,1.903,1.954,2,2.301,2.477,2.602,2.699,2.778,2.845,2.903,2.954,3,3.301,3.477,3.602,3.699,3.778,3.845,3.903,3.954,4,4.301,4.477,4.602,4.699,4.778,4.845,4.903,4.954,5,5.301], "labelExpr": "datum.value % 1 == 0 ? ['10⁻³','10⁻²','10⁻¹','10⁰','10¹','10²','10³','10⁴','10⁵'][datum.value + 3] : ''", "labelPadding": 5, "title": "log[arrestin-3], nM", "titlePadding": 3, "tickSize": {"condition": {"test": "datum.value % 1 == 0", "value": 4}, "value": 2}}},
     "y": {"field": "y", "type": "quantitative", "scale": {"domain": [-3.0, 3.833], "nice": false, "zero": false}, "axis": {"values": [1.66, -1.53], "labelExpr": "datum.value > 0 ? '1.66' : '-1.53'", "labelOffset": -1, "title": null}}}}
 ]}
]}
],
"config": {
 "view": {"stroke": "#9c9c9c", "strokeWidth": 1},
 "axis": {"domain": false, "grid": false, "labelFont": "Liberation Sans", "labelFontSize": 15, "labelFontWeight": "bold", "labelColor": "#111111", "tickColor": "#555555", "tickSize": 3, "labelPadding": 1, "labelFlush": false, "labelOverlap": false, "titleFont": "Liberation Sans", "titleFontSize": 16.5, "titleFontWeight": "bold", "titleColor": "#111111"},
 "axisX": {"labelFontSize": 16},
 "text": {"font": "Liberation Sans", "color": "#1a1a1a"}
}
}
